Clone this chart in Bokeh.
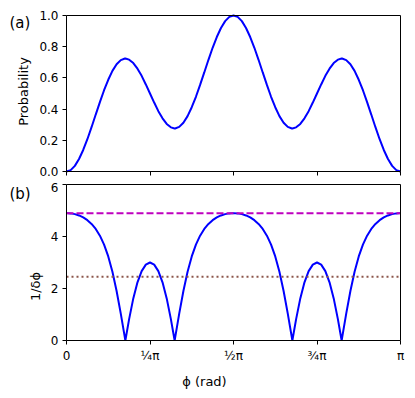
from bokeh.plotting import figure
from bokeh.layouts import column
from bokeh.models import FixedTicker, Range1d, Label, LinearAxis, BoxAnnotation
from bokeh.embed import file_html
from bokeh.resources import INLINE

# phase in units of pi
phi = [0, 0.0125, 0.025, 0.0375, 0.05, 0.0625, 0.075, 0.0875, 0.1, 0.1125,
       0.125, 0.1375, 0.15, 0.1625, 0.175, 0.1762, 0.1875, 0.2, 0.2125, 0.225,
       0.2375, 0.25, 0.2625, 0.275, 0.2875, 0.3, 0.3125, 0.3238, 0.325, 0.3375,
       0.35, 0.3625, 0.375, 0.3875, 0.4, 0.4125, 0.425, 0.4375, 0.45, 0.4625,
       0.475, 0.4875, 0.5, 0.5125, 0.525, 0.5375, 0.55, 0.5625, 0.575, 0.5875,
       0.6, 0.6125, 0.625, 0.6375, 0.65, 0.6625, 0.675, 0.6762, 0.6875, 0.7,
       0.7125, 0.725, 0.7375, 0.75, 0.7625, 0.775, 0.7875, 0.8, 0.8125, 0.8238,
       0.825, 0.8375, 0.85, 0.8625, 0.875, 0.8875, 0.9, 0.9125, 0.925, 0.9375,
       0.95, 0.9625, 0.975, 0.9875, 1.0]

probability = [0.000, 0.009, 0.036, 0.080, 0.138, 0.207, 0.284, 0.365, 0.445, 0.521,
               0.588, 0.645, 0.687, 0.714, 0.724, 0.724, 0.717, 0.695, 0.659, 0.613,
               0.558, 0.500, 0.442, 0.387, 0.341, 0.305, 0.283, 0.276, 0.276, 0.286,
               0.313, 0.355, 0.412, 0.479, 0.555, 0.635, 0.716, 0.793, 0.862, 0.920,
               0.964, 0.991, 1.000, 0.991, 0.964, 0.920, 0.862, 0.793, 0.716, 0.635,
               0.555, 0.479, 0.412, 0.355, 0.313, 0.286, 0.276, 0.276, 0.283, 0.305,
               0.341, 0.387, 0.442, 0.500, 0.558, 0.613, 0.659, 0.695, 0.717, 0.724,
               0.724, 0.714, 0.687, 0.645, 0.588, 0.521, 0.445, 0.365, 0.284, 0.207,
               0.138, 0.080, 0.036, 0.009, 0.000]

inv_dphi = [4.899, 4.889, 4.860, 4.810, 4.734, 4.628, 4.484, 4.291, 4.032, 3.688,
            3.233, 2.643, 1.904, 1.033, 0.091, 0.000, 0.824, 1.619, 2.239, 2.669,
            2.919, 3.000, 2.919, 2.669, 2.239, 1.619, 0.824, 0.000, 0.091, 1.033,
            1.904, 2.643, 3.233, 3.688, 4.032, 4.291, 4.484, 4.628, 4.734, 4.810,
            4.860, 4.889, 4.899, 4.889, 4.860, 4.810, 4.734, 4.628, 4.484, 4.291,
            4.032, 3.688, 3.233, 2.643, 1.904, 1.033, 0.091, 0.000, 0.824, 1.619,
            2.239, 2.669, 2.919, 3.000, 2.919, 2.669, 2.239, 1.619, 0.824, 0.000,
            0.091, 1.033, 1.904, 2.643, 3.233, 3.688, 4.032, 4.291, 4.484, 4.628,
            4.734, 4.810, 4.860, 4.889, 4.899]

upper_limit = 4.899
shot_noise = 2.449

x_ticks = [0, 0.25, 0.5, 0.75, 1]
x_tick_labels = ["0", "¼π", "½π", "¾π", "π"]
y_ticks_a = [0, 0.2, 0.4, 0.6, 0.8, 1.0]
y_tick_labels_a = ["0.0", "0.2", "0.4", "0.6", "0.8", "1.0"]
y_ticks_b = [0, 2, 4, 6]

FONT = "DejaVu Sans"
WIDTH = 408
PX_X = 334          # pixels per unit of phi/pi
LEFT_PAD = 66       # pixels left of phi = 0 (y axis, panel letters)


def style_axis(ax):
    ax.major_tick_out = 4
    ax.major_tick_in = 0
    ax.minor_tick_out = 0
    ax.minor_tick_in = 0
    ax.axis_line_color = None
    ax.major_tick_line_color = "black"
    ax.major_label_text_font = FONT
    ax.major_label_text_font_size = "12px"
    ax.major_label_text_color = "black"
    ax.axis_label_text_font = FONT
    ax.axis_label_text_font_size = "13px"
    ax.axis_label_text_font_style = "normal"
    ax.axis_label_text_color = "black"
    ax.major_label_standoff = 4


def make_panel(height, y0, y1, pad_top, pad_bottom, x_range):
    # the frame covers the whole canvas; the data box [0,1]x[y0,y1] sits inside it
    px_y = (height - pad_top - pad_bottom) / (y1 - y0)
    y_range = Range1d(y0 - pad_bottom / px_y, y1 + pad_top / px_y)
    p = figure(width=WIDTH, height=height, output_backend="svg", toolbar_location=None,
               x_range=x_range, y_range=y_range, x_axis_location=None,
               y_axis_location=None, min_border=0)
    p.outline_line_color = None
    p.xgrid.visible = False
    p.ygrid.visible = False
    p.background_fill_color = "white"
    p.border_fill_color = "white"
    yax = LinearAxis(fixed_location=phi[0])
    xax = LinearAxis(fixed_location=y0)
    p.add_layout(yax, "left")
    p.add_layout(xax, "below")
    style_axis(xax)
    style_axis(yax)
    xax.ticker = FixedTicker(ticks=x_ticks)
    p.add_layout(BoxAnnotation(left=phi[0], right=phi[-1], bottom=y0, top=y1,
                               fill_color=None, fill_alpha=0,
                               line_color="black", line_width=1, line_alpha=1))
    return p, xax, yax


x_range = Range1d(-LEFT_PAD / PX_X, (WIDTH - LEFT_PAD) / PX_X)

# ---------- panel (a) ----------
pa, xa, ya = make_panel(182, 0, 1, 15, 11, x_range)
pa.line(phi, probability, line_color="#0000ff", line_width=2)
xa.major_label_overrides = {t: "" for t in x_ticks}
xa.major_label_text_font_size = "1px"
ya.ticker = FixedTicker(ticks=y_ticks_a)
ya.major_label_overrides = dict(zip(y_ticks_a, y_tick_labels_a))
ya.axis_label = "Probability"
ya.axis_label_standoff = 5
pa.add_layout(Label(x=-0.171, y=0.949, text="(a)", text_baseline="middle",
                    text_font=FONT, text_font_size="15px", text_color="black"))

# ---------- panel (b) ----------
pb, xb, yb = make_panel(208, 0, 6, 2, 50, x_range)
pb.line(phi, inv_dphi, line_color="#0000ff", line_width=2)
pb.line([phi[0], phi[-1]], [upper_limit, upper_limit], line_color="#bf00bf",
        line_width=2, line_dash="7 3")
pb.line([phi[0], phi[-1]], [shot_noise, shot_noise], line_color="#8c564b",
        line_width=2, line_dash="2 3")
xb.major_label_overrides = dict(zip(x_ticks, x_tick_labels))
xb.axis_label = "ϕ (rad)"
xb.axis_label_standoff = 8
yb.ticker = FixedTicker(ticks=y_ticks_b)
yb.axis_label = "1/δϕ"
yb.axis_label_standoff = 5
pb.add_layout(Label(x=-0.171, y=5.65, text="(b)", text_baseline="middle",
                    text_font=FONT, text_font_size="15px", text_color="black"))

layout = column(pa, pb, spacing=0)
open("out.html", "w").write(file_html(layout, INLINE))
